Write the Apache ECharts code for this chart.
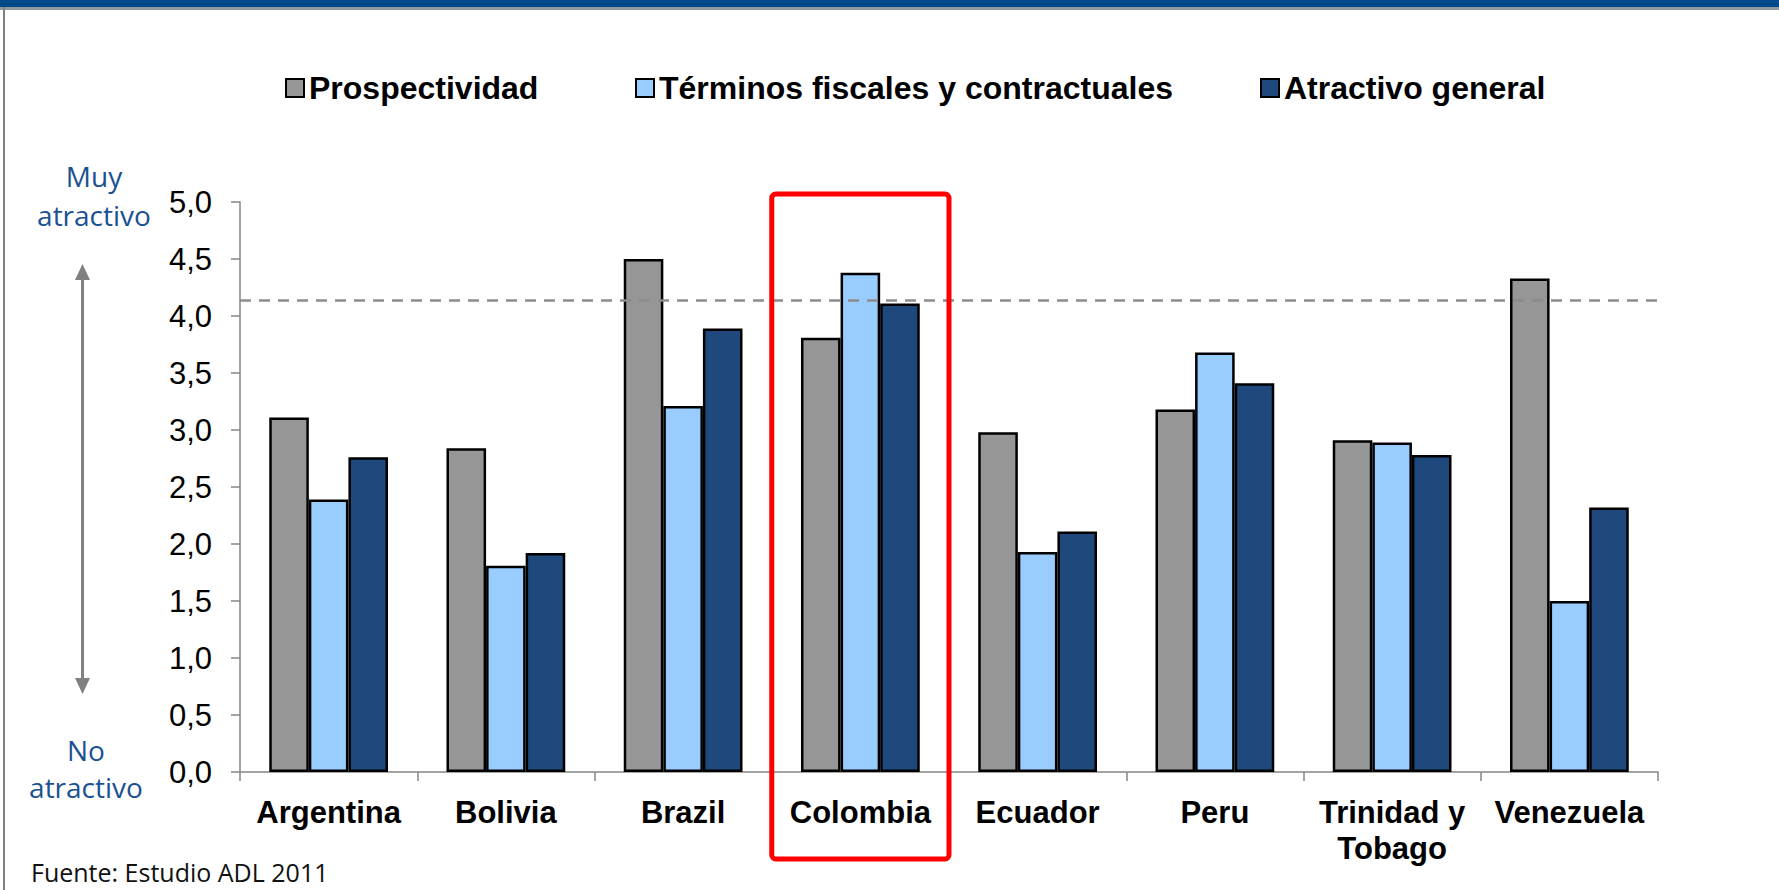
<!DOCTYPE html>
<html>
<head>
<meta charset="utf-8">
<script src="https://cdn.jsdelivr.net/npm/echarts@6/dist/echarts.min.js"></script>
<style>
html,body{margin:0;padding:0;background:#fff;}
#chart{width:1779px;height:890px;}
</style>
</head>
<body>
<div id="chart"></div>
<script>
const categories = ['Argentina', 'Bolivia', 'Brazil', 'Colombia', 'Ecuador', 'Peru', 'Trinidad y\nTobago', 'Venezuela'];
const seriesNames = ['Prospectividad', 'Términos fiscales y contractuales', 'Atractivo general'];
const prospectividad = [3.11, 2.84, 4.50, 3.81, 2.98, 3.18, 2.91, 4.33];
const terminos = [2.39, 1.81, 3.21, 4.38, 1.93, 3.68, 2.89, 1.50];
const atractivo = [2.76, 1.92, 3.89, 4.11, 2.11, 3.41, 2.78, 2.32];
const referenceLine = 4.14;
const topLabel = ['Muy', 'atractivo'];
const bottomLabel = ['No', 'atractivo'];
const sourceNote = 'Fuente: Estudio ADL 2011';
const highlightCategory = 'Colombia';

const colors = ['#969696', '#99CCFF', '#1F497D'];
const values = [prospectividad, terminos, atractivo];
const legendLefts = [285, 635, 1260];

const chart = echarts.init(document.getElementById('chart'), null, {renderer: 'svg'});

const GRID = {left: 240, right: 121, top: 202, bottom: 118};

const series = seriesNames.map((name, i) => {
  const s = {
    name: name,
    type: 'bar',
    data: values[i],
    barGap: '0%',
    barCategoryGap: '33%',
    itemStyle: {color: colors[i], borderColor: '#000', borderWidth: 2.5},
    emphasis: {disabled: true},
    animation: false
  };
  if (i === 2) {
    s.markLine = {
      silent: true,
      symbol: ['none', 'none'],
      label: {show: false},
      lineStyle: {color: '#8c8c8c', type: [11, 8], width: 2.5},
      data: [{yAxis: referenceLine}],
      animation: false
    };
  }
  return s;
});

const legends = seriesNames.map((name, i) => ({
  data: [name],
  left: legendLefts[i],
  top: 72,
  padding: 0,
  itemWidth: 18,
  itemHeight: 18,
  icon: 'rect',
  itemStyle: {borderColor: '#000', borderWidth: 2},
  textStyle: {fontFamily: '"Liberation Sans", Arial, sans-serif', fontWeight: 'bold', fontSize: 32, color: '#000'},
  selectedMode: false
}));

const option = {
  animation: false,
  backgroundColor: '#fff',
  legend: legends,
  grid: GRID,
  xAxis: {
    type: 'category',
    data: categories,
    axisLine: {lineStyle: {color: '#868686', width: 1.5}},
    axisTick: {show: true, length: 9, lineStyle: {color: '#868686', width: 1.5}},
    axisLabel: {
      interval: 0,
      margin: 22,
      fontFamily: '"Liberation Sans", Arial, sans-serif',
      fontWeight: 'bold',
      fontSize: 31,
      lineHeight: 36,
      color: '#000'
    }
  },
  yAxis: {
    type: 'value',
    min: 0,
    max: 5,
    interval: 0.5,
    splitLine: {show: false},
    axisLine: {show: true, lineStyle: {color: '#868686', width: 1.5}},
    axisTick: {show: true, length: 9, lineStyle: {color: '#868686', width: 1.5}},
    axisLabel: {
      margin: 28,
      fontFamily: '"Liberation Sans", Arial, sans-serif',
      fontSize: 31,
      color: '#000',
      formatter: v => v.toFixed(1).replace('.', ',')
    }
  },
  series: series,
  graphic: []
};

chart.setOption(option);

const idx = categories.indexOf(highlightCategory);
const x0 = chart.convertToPixel({xAxisIndex: 0}, idx);
const bandW = (1779 - GRID.left - GRID.right) / categories.length;
const yTop = chart.convertToPixel({yAxisIndex: 0}, 5);

const annColor = '#1a5192';
const annFont = '"Open Sans", "Noto Sans", sans-serif';

chart.setOption({
  graphic: [
    {type: 'rect', shape: {x: 0, y: 0, width: 1779, height: 7}, style: {fill: '#004A8A'}, silent: true},
    {type: 'rect', shape: {x: 0, y: 7, width: 1779, height: 3}, style: {fill: '#8f9aa2'}, silent: true},
    {type: 'rect', shape: {x: 3, y: 7, width: 2, height: 883}, style: {fill: '#808080'}, silent: true},
    {type: 'line', shape: {x1: 82.5, y1: 276, x2: 82.5, y2: 681}, style: {stroke: '#808080', lineWidth: 3}, silent: true},
    {type: 'polygon', shape: {points: [[82.5, 264], [75, 280], [90, 280]]}, style: {fill: '#808080'}, silent: true},
    {type: 'polygon', shape: {points: [[82.5, 694], [75, 678], [90, 678]]}, style: {fill: '#808080'}, silent: true},
    {type: 'text', x: 94, y: 176, style: {text: topLabel[0], fill: annColor, font: '28px ' + annFont, textAlign: 'center', textVerticalAlign: 'middle'}, silent: true},
    {type: 'text', x: 94, y: 215, style: {text: topLabel[1], fill: annColor, font: '28px ' + annFont, textAlign: 'center', textVerticalAlign: 'middle'}, silent: true},
    {type: 'text', x: 86, y: 750, style: {text: bottomLabel[0], fill: annColor, font: '28px ' + annFont, textAlign: 'center', textVerticalAlign: 'middle'}, silent: true},
    {type: 'text', x: 86, y: 787, style: {text: bottomLabel[1], fill: annColor, font: '28px ' + annFont, textAlign: 'center', textVerticalAlign: 'middle'}, silent: true},
    {type: 'text', x: 31, y: 872, style: {text: sourceNote, fill: '#111', font: '25px ' + annFont, textAlign: 'left', textVerticalAlign: 'middle'}, silent: true},
    {type: 'rect', z: 100, shape: {x: x0 - bandW / 2, y: yTop - 8, width: bandW, height: 665, r: 4}, style: {fill: 'none', stroke: '#ff0000', lineWidth: 5}, silent: true}
  ]
});
</script>
</body>
</html>
